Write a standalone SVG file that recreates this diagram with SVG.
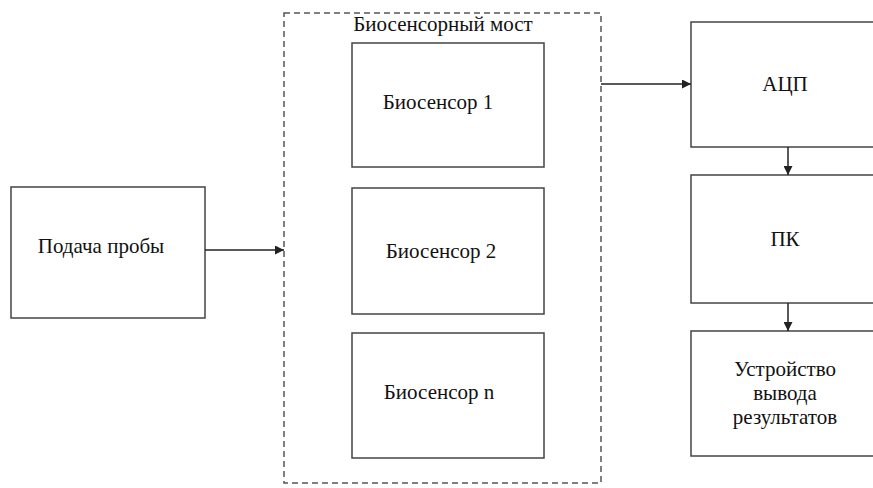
<svg xmlns="http://www.w3.org/2000/svg" width="873" height="488" viewBox="0 0 873 488">
<style>
.box{fill:#fff;stroke:#444;stroke-width:1.5}
.t{font-family:"Liberation Serif","DejaVu Serif","Times New Roman",serif;font-size:21px;fill:#111;text-anchor:middle}
.c{stroke:#222;stroke-width:1.5;fill:none}
</style>
<defs>
<marker id="ah" viewBox="0 0 10 10" refX="10" refY="5" markerWidth="9" markerHeight="9" markerUnits="userSpaceOnUse" orient="auto">
<path d="M0,0 L10,5 L0,10 z" fill="#222"/>
</marker>
</defs>
<rect width="873" height="488" fill="#fff"/>
<g id="bridge">
<rect x="284" y="13" width="317" height="470" fill="none" stroke="#555" stroke-width="1.5" stroke-dasharray="6,4"/>
<text class="t" x="443" y="31">Биосенсорный мост</text>
</g>
<g id="sample">
<rect class="box" x="11" y="187" width="194" height="131"/>
<text class="t" x="101" y="253">Подача пробы</text>
</g>
<g id="bs1">
<rect class="box" x="352" y="43" width="192" height="124"/>
<text class="t" x="438" y="109">Биосенсор 1</text>
</g>
<g id="bs2">
<rect class="box" x="352" y="188" width="192" height="126"/>
<text class="t" x="441" y="258">Биосенсор 2</text>
</g>
<g id="bsn">
<rect class="box" x="352" y="333" width="192" height="125"/>
<text class="t" x="439" y="399">Биосенсор n</text>
</g>
<g id="adc">
<rect class="box" x="691" y="22" width="200" height="125"/>
<text class="t" x="785" y="91">АЦП</text>
</g>
<g id="pc">
<rect class="box" x="691" y="175" width="200" height="128"/>
<text class="t" x="785" y="246">ПК</text>
</g>
<g id="out">
<rect class="box" x="691" y="331" width="200" height="125"/>
<text class="t" x="785" y="376">Устройство</text>
<text class="t" x="785" y="400">вывода</text>
<text class="t" x="785" y="424">результатов</text>
</g>
<g id="connectors">
<line class="c" x1="205" y1="250" x2="284" y2="250" marker-end="url(#ah)"/>
<line class="c" x1="601" y1="84" x2="691" y2="84" marker-end="url(#ah)"/>
<line class="c" x1="788" y1="147" x2="788" y2="175" marker-end="url(#ah)"/>
<line class="c" x1="788" y1="303" x2="788" y2="331" marker-end="url(#ah)"/>
</g>
</svg>
